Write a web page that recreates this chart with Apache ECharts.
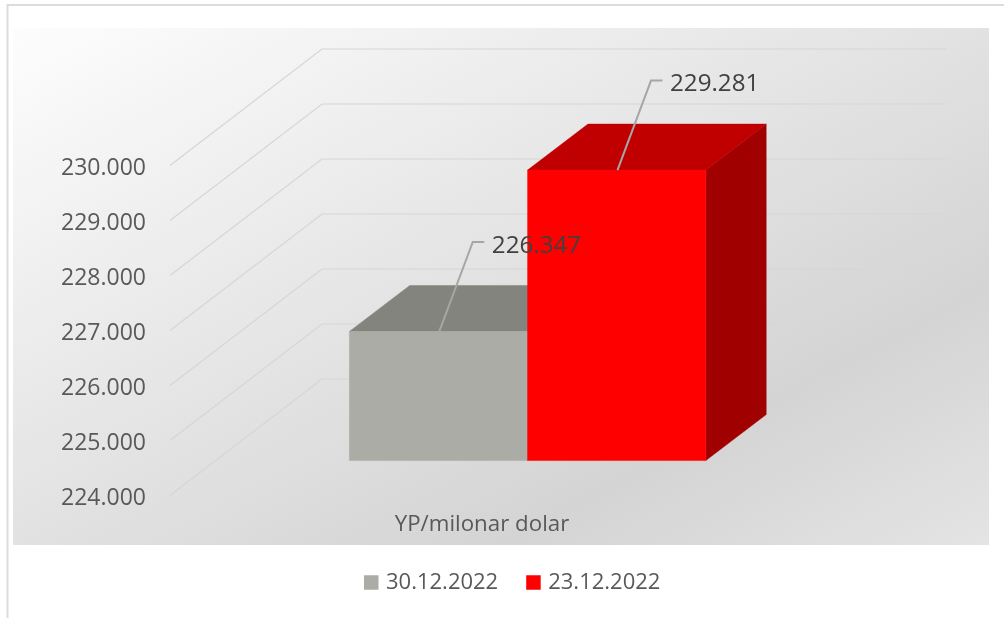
<!DOCTYPE html>
<html>
<head>
<meta charset="utf-8">
<style>html,body{margin:0;padding:0;background:#fff}#c{width:1004px;height:618px}</style>
<script src="https://cdn.jsdelivr.net/npm/echarts@6/dist/echarts.min.js"></script>
</head>
<body>
<div id="c"></div>
<script>
var categories = ['YP/milonar dolar'];
var seriesNames = ['30.12.2022', '23.12.2022'];
var values3012 = [226.347];
var values2312 = [229.281];
var yTicks = [224, 225, 226, 227, 228, 229, 230];

var FONT = '"Open Sans", "Noto Sans", sans-serif';
var DEPTH_X = 152, DEPTH_Y = 116.5, WALL_RIGHT = 946;
var PLANE = 0.3, BAR_W = 178.2, BAR_DX = 60.4, BAR_DY = 46;

var chart = echarts.init(document.getElementById('c'), null, {renderer: 'canvas'});

function poly(points, fill) {
  return {type: 'polygon', shape: {points: points}, style: {fill: fill, stroke: fill, lineWidth: 0.5}};
}
function cuboid(side, front, top, dark) {
  return function (params, api) {
    var t = api.coord([api.value(0), api.value(1)]);
    var b = api.coord([api.value(0), yTicks[0]]);
    var cx = t[0] + DEPTH_X * PLANE;
    var x0 = side < 0 ? cx - BAR_W : cx, x1 = x0 + BAR_W;
    var yt = t[1] - DEPTH_Y * PLANE, yb = b[1] - DEPTH_Y * PLANE;
    return {type: 'group', children: [
      poly([[x1, yt], [x1 + BAR_DX, yt - BAR_DY], [x1 + BAR_DX, yb - BAR_DY], [x1, yb]], dark),
      poly([[x0, yt], [x0 + BAR_DX, yt - BAR_DY], [x1 + BAR_DX, yt - BAR_DY], [x1, yt]], top),
      poly([[x0, yt], [x1, yt], [x1, yb], [x0, yb]], front)
    ]};
  };
}
function labelItem(side) {
  return function (params, api) {
    var t = api.coord([api.value(0), api.value(1)]);
    var cx = t[0] + DEPTH_X * PLANE + side * BAR_W / 2 + 0.8;
    var y = t[1] - DEPTH_Y * PLANE;
    var kx = cx + 33.5, ky = y - 89.5;
    return {type: 'group', children: [
      {type: 'polyline', shape: {points: [[cx, y], [kx, ky], [kx + 11.5, ky]]},
       style: {stroke: '#a6a6a6', lineWidth: 2, fill: null}},
      {type: 'text', style: {text: api.value(1).toFixed(3), x: kx + 19, y: ky + 4,
        fill: '#404040', font: '500 24.2px ' + FONT, textAlign: 'left', textVerticalAlign: 'middle'}}
    ]};
  };
}

var option = {
  animation: false,
  grid: {left: 170, top: 165.5, width: 624, height: 330, containLabel: false},
  xAxis: {
    type: 'category', data: categories,
    axisLine: {show: false}, axisTick: {show: false}, splitLine: {show: false},
    axisLabel: {color: '#595959', fontFamily: FONT, fontWeight: 500, fontSize: 22.3, margin: 18}
  },
  yAxis: {
    type: 'value', min: 224, max: 230, interval: 1,
    axisLine: {show: false}, axisTick: {show: false}, splitLine: {show: false},
    axisLabel: {margin: 24,
      formatter: function (v) { return '{a|' + v.toFixed(3) + '}'; },
      rich: {a: {color: '#595959', fontFamily: FONT, fontWeight: 500, fontSize: 23, padding: [6, 0, 0, 0]}}}
  },
  legend: {
    data: seriesNames, left: 359, top: 566.5, icon: 'rect', itemWidth: 14.5, itemHeight: 14.5, itemGap: 28,
    textStyle: {color: '#595959', fontFamily: FONT, fontWeight: 500, fontSize: 22, padding: [3, 0, 0, 2.5]}
  },
  graphic: {elements: [
    {type: 'rect', z: -10, shape: {x: 13, y: 28, width: 976, height: 517}, style: {
      fill: {type: 'linear', global: true, x: 287, y: -117.5, x2: 715, y2: 690.5, colorStops: [
        {offset: 0, color: '#fdfdfd'}, {offset: 0.75, color: '#d4d4d4'}, {offset: 1, color: '#e4e4e4'}]}
    }},
    {type: 'polyline', z: -5, shape: {points: [[7.5, 618], [7.5, 5], [1004, 5]]},
     style: {stroke: '#dcdcdc', lineWidth: 2, fill: null}}
  ]},
  series: [
    {
      type: 'custom', name: 'grid', z: 1, silent: true, encode: {y: 0},
      data: yTicks.map(function (v) { return [v]; }),
      renderItem: function (params, api) {
        var p = api.coord([0, api.value(0)]);
        var x = p[0] - 312, y = p[1];
        return {type: 'polyline',
          shape: {points: [[x, y], [x + DEPTH_X, y - DEPTH_Y], [WALL_RIGHT, y - DEPTH_Y]]},
          style: {stroke: '#d6d6d6', lineWidth: 1.2, fill: null}};
      }
    },
    {
      type: 'custom', name: seriesNames[0], z: 2, silent: true, itemStyle: {color: '#abaca6'},
      encode: {x: 0, y: 1},
      data: categories.map(function (c, i) { return [c, values3012[i]]; }),
      renderItem: cuboid(-1, '#abaca6', '#83847d', '#7a7b75')
    },
    {
      type: 'custom', name: seriesNames[1], z: 3, silent: true, itemStyle: {color: '#ff0000'},
      encode: {x: 0, y: 1},
      data: categories.map(function (c, i) { return [c, values2312[i]]; }),
      renderItem: cuboid(1, '#ff0000', '#c00000', '#a00000')
    },
    {
      type: 'custom', name: 'label-a', z: 5, silent: true, encode: {x: 0, y: 1},
      data: categories.map(function (c, i) { return [c, values3012[i]]; }),
      renderItem: labelItem(-1)
    },
    {
      type: 'custom', name: 'label-b', z: 5, silent: true, encode: {x: 0, y: 1},
      data: categories.map(function (c, i) { return [c, values2312[i]]; }),
      renderItem: labelItem(1)
    }
  ]
};
chart.setOption(option);
</script>
</body>
</html>
